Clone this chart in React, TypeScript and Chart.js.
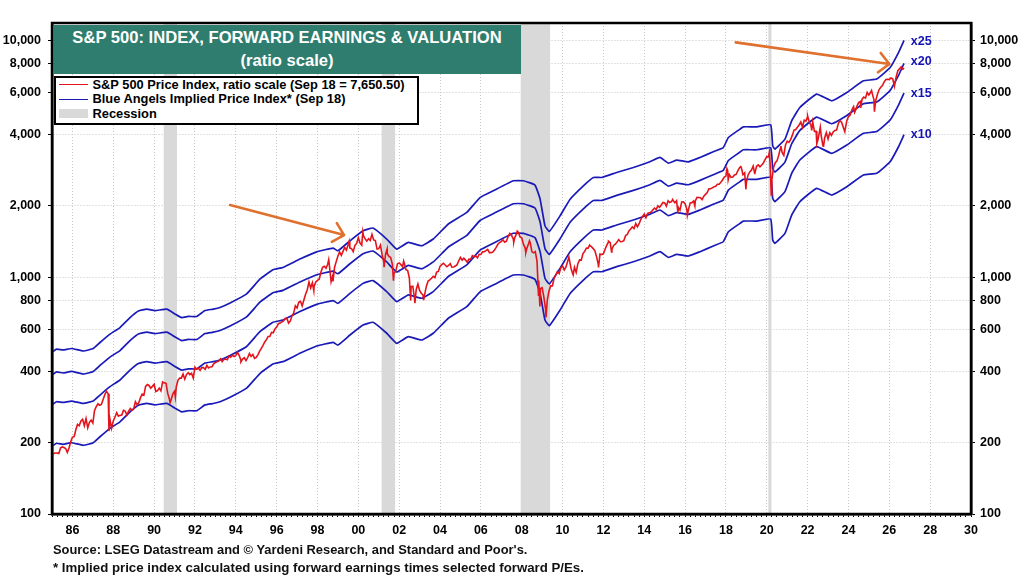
import React, { useEffect, useRef } from "react";
import { Chart, registerables } from "chart.js";

Chart.register(...registerables);

const FONT = '"Liberation Sans", Arial, sans-serif';
const RED = "#e3141c";
const BLUE = "#1a1ab8";

const yTicks = [100, 200, 400, 600, 800, 1000, 2000, 4000, 6000, 8000, 10000];

const recessionStarts = [1990.47, 2001.14, 2007.95, 2020.08];
const recessionEnds = [1991.12, 2001.8, 2009.39, 2020.23];

// implied price index
const blueDates = [
  1985.03, 1985.23, 1985.54, 1985.96, 1986.53, 1987.02, 1987.35, 1987.84, 1988.33, 1988.82,
  1989.23, 1989.64, 1990.04, 1990.62, 1991.02, 1991.35, 1991.67, 1992.09, 1992.49, 1992.9,
  1993.23, 1993.72, 1994.53, 1995.19, 1995.82, 1996.31, 1997.14, 1997.96, 1998.76, 1999.0,
  1999.59, 2000.23, 2000.72, 2001.39, 2001.88, 2002.45, 2003.1, 2003.67, 2004.41, 2005.31,
  2005.96, 2006.61, 2007.59, 2008.08, 2008.65, 2008.9, 2009.14, 2009.35, 2009.88, 2010.37,
  2011.02, 2011.51, 2011.92, 2012.65, 2013.47, 2014.28, 2014.77, 2015.18, 2015.59, 2016.16,
  2016.73, 2017.38, 2017.87, 2018.12, 2018.69, 2018.85, 2019.51, 2020.19, 2020.29, 2020.4,
  2020.89, 2021.22, 2021.62, 2022.44, 2023.18, 2023.92, 2024.73, 2025.38, 2026.04, 2026.45,
  2026.72,
];
const x10 = [
  194, 199, 197, 200, 195, 200, 212, 230, 245, 270,
  288, 293, 289, 293, 280, 270, 273, 273, 289, 293,
  298, 311, 340, 393, 430, 440, 477, 512, 531, 517,
  570, 628, 645, 580, 526, 561, 543, 580, 671, 751,
  868, 927, 1022, 1022, 980, 855, 659, 624, 727, 854,
  973, 1055, 1055, 1108, 1163, 1229, 1282, 1213, 1249, 1229,
  1282, 1355, 1412, 1556, 1689, 1727, 1727, 1761, 1436, 1390,
  1532, 1831, 2084, 2374, 2224, 2411, 2701, 2747, 3074, 3557,
  4000,
];
const x15 = [
  291, 298, 296, 300, 293, 300, 318, 345, 368, 405,
  432, 440, 434, 440, 420, 405, 410, 410, 434, 440,
  447, 467, 510, 590, 645, 660, 716, 768, 797, 776,
  855, 942, 968, 870, 789, 842, 815, 870, 1007, 1127,
  1302, 1391, 1533, 1533, 1470, 1283, 989, 936, 1091, 1281,
  1460, 1583, 1583, 1662, 1745, 1844, 1923, 1820, 1874, 1844,
  1923, 2033, 2118, 2334, 2534, 2591, 2591, 2642, 2154, 2085,
  2298, 2747, 3126, 3561, 3336, 3617, 4052, 4121, 4611, 5336,
  6000,
];
const x20 = [
  388, 398, 394, 400, 390, 400, 424, 460, 490, 540,
  576, 586, 578, 586, 560, 540, 546, 546, 578, 586,
  596, 622, 680, 786, 860, 880, 954, 1024, 1062, 1034,
  1140, 1256, 1290, 1160, 1052, 1122, 1086, 1160, 1342, 1502,
  1736, 1854, 2044, 2044, 1960, 1710, 1318, 1248, 1454, 1708,
  1946, 2110, 2110, 2216, 2326, 2458, 2564, 2426, 2498, 2458,
  2564, 2710, 2824, 3112, 3378, 3454, 3454, 3522, 2872, 2780,
  3064, 3662, 4168, 4748, 4448, 4822, 5402, 5494, 6148, 7114,
  8000,
];
const x25 = [
  485, 497, 493, 500, 488, 500, 530, 575, 613, 675,
  720, 733, 723, 733, 700, 675, 683, 683, 723, 733,
  745, 778, 850, 983, 1075, 1100, 1193, 1280, 1328, 1293,
  1425, 1570, 1613, 1450, 1315, 1403, 1358, 1450, 1678, 1878,
  2170, 2318, 2555, 2555, 2450, 2138, 1648, 1560, 1818, 2135,
  2433, 2638, 2638, 2770, 2908, 3073, 3205, 3033, 3123, 3073,
  3205, 3388, 3530, 3890, 4223, 4318, 4318, 4403, 3590, 3475,
  3830, 4578, 5210, 5935, 5560, 6028, 6753, 6868, 7685, 8893,
  10000,
];

// S&P 500, one value a month from Jan 1985
const sp500Monthly = [
  180, 181, 181, 180, 190, 192, 191, 189, 182, 190, 202, 211,
  212, 227, 239, 236, 247, 251, 236, 253, 231, 244, 249, 242,
  274, 284, 292, 288, 290, 304, 319, 330, 322, 252, 230, 247,
  257, 268, 259, 261, 262, 274, 272, 262, 272, 279, 274, 278,
  298, 289, 295, 310, 321, 318, 346, 352, 349, 340, 346, 353,
  329, 332, 340, 331, 361, 358, 356, 323, 306, 304, 322, 330,
  344, 367, 375, 375, 390, 371, 388, 395, 388, 393, 375, 417,
  409, 413, 404, 415, 415, 408, 424, 414, 418, 419, 431, 436,
  439, 443, 452, 440, 450, 451, 448, 464, 459, 468, 462, 467,
  482, 467, 446, 451, 457, 444, 458, 476, 463, 472, 454, 459,
  470, 487, 501, 515, 533, 545, 562, 562, 584, 582, 605, 616,
  636, 640, 646, 654, 669, 671, 640, 652, 687, 705, 757, 741,
  786, 791, 757, 801, 848, 885, 954, 900, 947, 915, 955, 970,
  980, 1049, 1102, 1112, 1091, 1134, 1121, 957, 1017, 1099, 1164, 1229,
  1280, 1238, 1286, 1335, 1302, 1373, 1329, 1320, 1283, 1363, 1389, 1469,
  1395, 1366, 1499, 1452, 1421, 1455, 1431, 1518, 1437, 1429, 1315, 1320,
  1366, 1240, 1160, 1250, 1256, 1224, 1211, 1134, 1041, 1060, 1140, 1148,
  1130, 1107, 1147, 1077, 1067, 990, 912, 916, 815, 886, 936, 880,
  856, 841, 848, 917, 964, 975, 990, 1008, 996, 1051, 1058, 1112,
  1131, 1145, 1126, 1107, 1121, 1141, 1102, 1104, 1115, 1130, 1174, 1212,
  1181, 1204, 1181, 1157, 1192, 1191, 1234, 1220, 1229, 1207, 1250, 1248,
  1280, 1281, 1295, 1311, 1270, 1270, 1277, 1304, 1336, 1378, 1401, 1418,
  1438, 1407, 1421, 1482, 1531, 1503, 1455, 1474, 1527, 1549, 1481, 1468,
  1379, 1331, 1323, 1386, 1400, 1280, 1267, 1283, 1166, 969, 896, 903,
  826, 735, 798, 873, 919, 919, 988, 1021, 1057, 1036, 1096, 1115,
  1074, 1105, 1169, 1187, 1089, 1031, 1102, 1049, 1141, 1183, 1181, 1258,
  1286, 1327, 1326, 1364, 1345, 1321, 1292, 1219, 1131, 1253, 1247, 1258,
  1312, 1366, 1409, 1398, 1310, 1362, 1379, 1407, 1441, 1412, 1416, 1426,
  1498, 1515, 1569, 1598, 1631, 1606, 1686, 1633, 1682, 1757, 1806, 1848,
  1783, 1860, 1872, 1884, 1924, 1960, 1931, 2003, 1972, 2018, 2068, 2059,
  1995, 2105, 2068, 2086, 2107, 2063, 2104, 1972, 1920, 2079, 2080, 2044,
  1940, 1932, 2060, 2065, 2097, 2099, 2174, 2171, 2168, 2126, 2199, 2239,
  2279, 2364, 2363, 2384, 2412, 2423, 2470, 2472, 2519, 2575, 2648, 2674,
  2824, 2714, 2641, 2648, 2705, 2718, 2816, 2902, 2914, 2712, 2760, 2507,
  2704, 2785, 2834, 2946, 2752, 2942, 2980, 2927, 2977, 3038, 3141, 3231,
  3226, 2954, 2585, 2912, 3044, 3100, 3271, 3500, 3363, 3270, 3622, 3756,
  3714, 3811, 3973, 4181, 4204, 4298, 4395, 4523, 4308, 4605, 4567, 4766,
  4516, 4374, 4530, 4132, 4132, 3785, 4130, 3955, 3586, 3872, 4080, 3840,
  4077, 3970, 4109, 4170, 4180, 4450, 4589, 4508, 4288, 4194, 4568, 4770,
  4846, 5096, 5254, 5036, 5278, 5461, 5522, 5648, 5763, 5706, 6032, 5882,
  6041, 5955, 5612, 5569, 5912, 6205, 6339, 6460, 6689, 6840, 6849, 6845,
  6939, 6880, 6400, 7000, 7450, 7600, 7744, 7560,
];

// sharp highs and lows that fall between the monthly values
const sp500ExtremeDates = [
  1985.01, 1987.79, 1990.78, 1991.04, 1994.25, 1997.82, 1998.55, 1998.76, 1999.55, 2000.22,
  2001.26, 2001.41, 2001.72, 2002.22, 2002.56, 2002.77, 2003.2, 2007.61, 2007.78, 2008.2,
  2008.38, 2008.82, 2008.89, 2009.19, 2010.31, 2010.52, 2011.32, 2011.76, 2012.25, 2012.4,
  2015.39, 2015.65, 2016.11, 2016.48, 2018.05, 2018.11, 2018.72, 2018.98, 2019.41, 2020.13,
  2020.22, 2020.69, 2022.0, 2022.2, 2022.45, 2022.62, 2022.78, 2023.82, 2024.3, 2024.6,
  2025.13, 2025.27, 2026.72,
];
const sp500ExtremeValues = [
  177, 224, 295, 312, 439, 877, 1186, 959, 1418, 1553,
  1103, 1315, 966, 1170, 797, 777, 800, 1406, 1565, 1273,
  1426, 840, 752, 677, 1217, 1022, 1363, 1099, 1419, 1278,
  2130, 1867, 1829, 2000, 2872, 2581, 2930, 2351, 2744, 3386,
  2224, 3580, 4796, 4170, 3667, 4305, 3577, 4117, 4967, 5186,
  6144, 5000, 7650,
];

const multipleLabels = ["x25", "x20", "x15", "x10"];
const multipleLabelValues = [9890, 8185, 5985, 4010];
const multipleLabelYear = 2027.05;

const arrowFromYears = [1993.72, 2018.48];
const arrowFromValues = [2018, 9818];
const arrowToYears = [1999.3, 2026.0];
const arrowToValues = [1507, 7950];

const toXY = (xs: number[], ys: number[]) => xs.map((x, i) => ({ x, y: ys[i] }));

const sp500Points = [
  ...sp500Monthly.map((y, i) => ({ x: 1985 + (i + 1) / 12, y })),
  ...toXY(sp500ExtremeDates, sp500ExtremeValues),
].sort((a, b) => a.x - b.x);

const blueLine = (label: string, values: number[]) => ({
  label,
  data: toXY(blueDates, values),
  borderColor: BLUE,
  borderWidth: 1.7,
  pointRadius: 0,
  tension: 0.12,
});

const overlays = {
  id: "overlays",
  beforeDatasetsDraw(chart: any) {
    const { ctx, chartArea, scales } = chart;
    ctx.save();
    ctx.fillStyle = "#d9d9d9";
    recessionStarts.forEach((start, i) => {
      const l = scales.x.getPixelForValue(start);
      const r = scales.x.getPixelForValue(recessionEnds[i]);
      ctx.fillRect(l, chartArea.top, r - l, chartArea.bottom - chartArea.top);
    });
    ctx.restore();
  },
  afterDatasetsDraw(chart: any) {
    const { ctx, chartArea, scales } = chart;
    ctx.save();
    ctx.strokeStyle = "#000";
    ctx.lineWidth = 2.5;
    ctx.strokeRect(chartArea.left, chartArea.top, chartArea.right - chartArea.left, chartArea.bottom - chartArea.top);

    // orange arrows
    ctx.strokeStyle = "#e0702e";
    ctx.lineWidth = 2.6;
    ctx.lineCap = "round";
    ctx.lineJoin = "round";
    arrowFromYears.forEach((year, i) => {
      const x0 = scales.x.getPixelForValue(year);
      const y0 = scales.y.getPixelForValue(arrowFromValues[i]);
      const x1 = scales.x.getPixelForValue(arrowToYears[i]);
      const y1 = scales.y.getPixelForValue(arrowToValues[i]);
      const angle = Math.atan2(y1 - y0, x1 - x0);
      ctx.beginPath();
      ctx.moveTo(x0, y0);
      ctx.lineTo(x1, y1);
      ctx.moveTo(x1 + 14 * Math.cos(angle + 2.37), y1 + 14 * Math.sin(angle + 2.37));
      ctx.lineTo(x1, y1);
      ctx.lineTo(x1 + 14 * Math.cos(angle - 2.37), y1 + 14 * Math.sin(angle - 2.37));
      ctx.stroke();
    });

    ctx.fillStyle = "#1414b4";
    ctx.font = `bold 12.5px ${FONT}`;
    ctx.textAlign = "left";
    ctx.textBaseline = "middle";
    multipleLabels.forEach((text, i) => {
      ctx.fillText(text, scales.x.getPixelForValue(multipleLabelYear), scales.y.getPixelForValue(multipleLabelValues[i]));
    });
    ctx.restore();
  },
};

const yAxisBase = {
  type: "logarithmic" as const,
  min: 100,
  max: 11850,
  afterBuildTicks: (scale: any) => {
    scale.ticks = yTicks.map((value) => ({ value }));
  },
  border: { color: "#000", width: 2.5, dash: [1, 2] },
};

const legendText: React.CSSProperties = { position: "absolute", left: 92.5, whiteSpace: "nowrap", lineHeight: "14px", fontSize: 12.85 };

const App: React.FC = () => {
  const canvasRef = useRef<HTMLCanvasElement | null>(null);

  useEffect(() => {
    if (!canvasRef.current) return;
    const chart = new Chart(canvasRef.current, {
      type: "line",
      data: {
        datasets: [
          {
            label: "S&P 500 Price Index",
            data: sp500Points,
            borderColor: RED,
            borderWidth: 1.6,
            pointRadius: 0,
          },
          blueLine("x25", x25),
          blueLine("x20", x20),
          blueLine("x15", x15),
          blueLine("x10", x10),
        ],
      },
      options: {
        responsive: false,
        animation: false,
        layout: { padding: { top: 23 } },
        plugins: { legend: { display: false }, title: { display: false }, tooltip: { enabled: false } },
        scales: {
          x: {
            type: "linear",
            min: 1985,
            max: 2030,
            afterBuildTicks: (scale: any) => {
              const ticks = [];
              for (let q = 0; q <= 180; q++) ticks.push({ value: 1985 + q / 4 });
              scale.ticks = ticks;
            },
            afterFit: (scale: any) => {
              scale.height = 62;
            },
            grid: {
              color: (ctx: any) => (ctx.tick && ctx.tick.value % 2 === 0 ? "#c6c6c6" : "transparent"),
              tickColor: "#000",
              tickLength: 3,
            },
            border: { color: "#000", width: 2.5, dash: [1, 2] },
            ticks: {
              autoSkip: false,
              maxRotation: 0,
              padding: 6,
              color: "#000",
              font: { family: FONT, size: 12.5, weight: "bold" },
              callback: (v: any) => (v % 2 === 0 ? String(v % 100).padStart(2, "0") : ""),
            },
          },
          y: {
            ...yAxisBase,
            position: "left",
            afterFit: (scale: any) => {
              scale.width = 52;
            },
            grid: { color: "#c6c6c6", tickColor: "#000", tickLength: 4 },
            ticks: {
              autoSkip: false,
              padding: 7,
              color: "#000",
              font: { family: FONT, size: 12.5, weight: "bold" },
              callback: (v: any) => Number(v).toLocaleString("en-US"),
            },
          },
          yRight: {
            ...yAxisBase,
            position: "right",
            afterFit: (scale: any) => {
              scale.width = 53;
            },
            grid: { drawOnChartArea: false, tickColor: "#000", tickLength: 4 },
            ticks: {
              autoSkip: false,
              padding: 5,
              color: "#000",
              font: { family: FONT, size: 12.5, weight: "bold" },
              callback: (v: any) => Number(v).toLocaleString("en-US"),
            },
          },
        },
      } as any,
      plugins: [overlays],
    });
    return () => chart.destroy();
  }, []);

  return (
    <div style={{ position: "absolute", left: 0, top: 0, width: 1024, height: 576, background: "#fff", overflow: "hidden", fontFamily: FONT, fontWeight: "bold" }}>
      <canvas ref={canvasRef} width={1024} height={576} style={{ position: "absolute", left: 0, top: 0, width: 1024, height: 576 }} />

      <div style={{ position: "absolute", left: 53.5, top: 25, width: 467, height: 48, background: "#2e7d6e", color: "#fff", textAlign: "center", fontSize: 16.6, lineHeight: "23px", paddingTop: 1 }}>
        <div>S&amp;P 500: INDEX, FORWARD EARNINGS &amp; VALUATION</div>
        <div>(ratio scale)</div>
      </div>

      <div style={{ position: "absolute", left: 54, top: 75.5, width: 361, height: 45, background: "#fff", border: "2px solid #000" }} />
      <div style={{ position: "absolute", left: 58.5, top: 84, width: 29, height: 1, background: RED }} />
      <div style={{ position: "absolute", left: 58.5, top: 98.5, width: 29, height: 1, background: BLUE }} />
      <div style={{ position: "absolute", left: 58.5, top: 109, width: 29, height: 9, background: "#d9d9d9" }} />
      <div style={{ ...legendText, top: 77.5 }}>S&amp;P 500 Price Index, ratio scale (Sep 18 = 7,650.50)</div>
      <div style={{ ...legendText, top: 92 }}>Blue Angels Implied Price Index* (Sep 18)</div>
      <div style={{ ...legendText, top: 106.5 }}>Recession</div>

      <div style={{ position: "absolute", left: 53, top: 542, whiteSpace: "nowrap", fontSize: 12.9, lineHeight: "15px", color: "#111" }}>
        Source: LSEG Datastream and © Yardeni Research, and Standard and Poor's.
      </div>
      <div style={{ position: "absolute", left: 53, top: 560, whiteSpace: "nowrap", fontSize: 13.25, lineHeight: "15px", color: "#111" }}>
        * Implied price index calculated using forward earnings times selected forward P/Es.
      </div>
    </div>
  );
};

export default App;
